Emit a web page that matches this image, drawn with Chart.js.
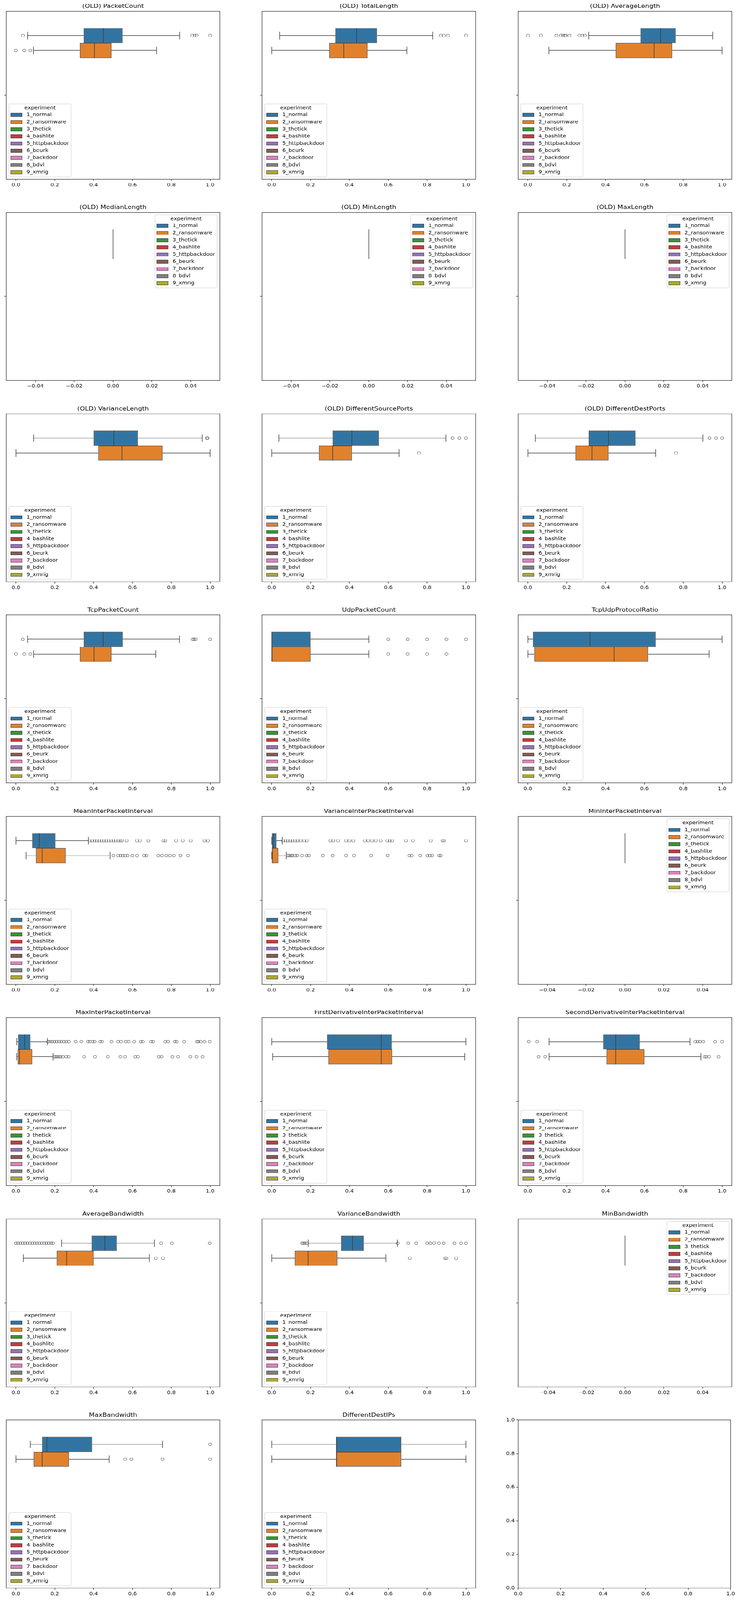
<!DOCTYPE html>
<html>
<head>
<meta charset="utf-8">
<script src="https://cdn.jsdelivr.net/npm/chart.js@4.4.0/dist/chart.umd.min.js"></script>
<style>
  html, body { margin: 0; padding: 0; background: #fff; overflow: hidden; }
  #fig { position: relative; width: 1895px; height: 4686px; overflow: hidden; background: #fff; transform-origin: 0 0; }
  #fig canvas { position: absolute; }
</style>
</head>
<body>
<div id="fig"></div>
<script>
// hue levels
const experiments = ['1_normal', '2_ransomware', '3_thetick', '4_bashlite', '5_httpbackdoor',
                     '6_beurk', '7_backdoor', '8_bdvl', '9_xmrig'];

// one panel per feature
const features = [
  '(OLD) PacketCount', '(OLD) TotalLength', '(OLD) AverageLength',
  '(OLD) MedianLength', '(OLD) MinLength', '(OLD) MaxLength',
  '(OLD) VarianceLength', '(OLD) DifferentSourcePorts', '(OLD) DifferentDestPorts',
  'TcpPacketCount', 'UdpPacketCount', 'TcpUdpProtocolRatio',
  'MeanInterPacketInterval', 'VarianceInterPacketInterval', 'MinInterPacketInterval',
  'MaxInterPacketInterval', 'FirstDerivativeInterPacketInterval', 'SecondDerivativeInterPacketInterval',
  'AverageBandwidth', 'VarianceBandwidth', 'MinBandwidth',
  'MaxBandwidth', 'DifferentDestIPs'
];

// [lower whisker, q1, median, q3, upper whisker]
const normalBox = [
  [0.06, 0.349, 0.45, 0.549, 0.843],
  [0.041, 0.328, 0.437, 0.542, 0.829],
  [0.313, 0.58, 0.683, 0.761, 0.952],
  [0, 0, 0, 0, 0],
  [0, 0, 0, 0, 0],
  [0, 0, 0, 0, 0],
  [0.091, 0.40, 0.504, 0.628, 0.959],
  [0.037, 0.314, 0.413, 0.552, 0.897],
  [0.038, 0.313, 0.415, 0.554, 0.901],
  [0.06, 0.349, 0.449, 0.55, 0.842],
  [0, 0, 0, 0.2, 0.5],
  [0.0, 0.026, 0.32, 0.658, 1.0],
  [0.0, 0.084, 0.12, 0.203, 0.373],
  [0.0, 0.001, 0.008, 0.024, 0.054],
  [0, 0, 0, 0, 0],
  [0.004, 0.011, 0.045, 0.074, 0.162],
  [0.0, 0.285, 0.564, 0.618, 1.0],
  [0.109, 0.388, 0.452, 0.576, 0.835],
  [0.235, 0.39, 0.458, 0.519, 0.713],
  [0.188, 0.357, 0.416, 0.474, 0.647],
  [0, 0, 0, 0, 0],
  [0.074, 0.135, 0.159, 0.392, 0.755],
  [0.0, 0.333, 0.333, 0.667, 1.0]
];

const ransomBox = [
  [0.09, 0.329, 0.404, 0.492, 0.724],
  [0.0, 0.296, 0.371, 0.493, 0.696],
  [0.108, 0.452, 0.65, 0.743, 1.0],
  [0, 0, 0, 0, 0],
  [0, 0, 0, 0, 0],
  [0, 0, 0, 0, 0],
  [0.0, 0.424, 0.546, 0.755, 1.0],
  [0.0, 0.243, 0.314, 0.413, 0.656],
  [0.0, 0.245, 0.33, 0.415, 0.658],
  [0.091, 0.329, 0.402, 0.492, 0.72],
  [0, 0, 0, 0.2, 0.5],
  [0.0, 0.033, 0.444, 0.619, 0.933],
  [0.052, 0.103, 0.135, 0.256, 0.485],
  [0.0, 0.0, 0.003, 0.034, 0.075],
  [0, 0, 0, 0, 0],
  [0.004, 0.009, 0.018, 0.084, 0.191],
  [0.005, 0.292, 0.564, 0.62, 0.994],
  [0.109, 0.405, 0.452, 0.6, 0.891],
  [0.038, 0.21, 0.261, 0.4, 0.687],
  [0.0, 0.119, 0.187, 0.338, 0.588],
  [0, 0, 0, 0, 0],
  [0.0, 0.091, 0.135, 0.273, 0.48],
  [0.0, 0.333, 0.333, 0.667, 1.0]
];

const normalOut = [
  [0.036, 0.908, 0.92, 0.93, 1.0],
  [0.87, 0.886, 0.907, 1.0],
  [0.0, 0.067, 0.147, 0.17, 0.18, 0.19, 0.195, 0.214, 0.265, 0.281, 0.293],
  [], [], [],
  [0.983, 0.987],
  [0.931, 0.966, 1.0],
  [0.935, 0.969, 1.0],
  [0.035, 0.91, 0.917, 0.925, 1.0],
  [0.6, 0.7, 0.8, 0.9, 1.0],
  [],
  [0.38, 0.392, 0.405, 0.417, 0.429, 0.441, 0.453, 0.465, 0.478, 0.49, 0.502, 0.514, 0.526,
   0.538, 0.546, 0.57, 0.623, 0.638, 0.682, 0.76, 0.769, 0.825, 0.859, 0.9, 0.971, 0.988],
  [0.059, 0.071, 0.083, 0.095, 0.107, 0.12, 0.132, 0.149, 0.168, 0.18, 0.302, 0.317, 0.341,
   0.383, 0.4, 0.42, 0.48, 0.497, 0.517, 0.536, 0.561, 0.595, 0.607, 0.62, 0.692, 0.727,
   0.819, 0.88, 0.887, 1.0],
  [],
  [0.166, 0.176, 0.186, 0.198, 0.21, 0.222, 0.234, 0.247, 0.259, 0.273, 0.307, 0.337, 0.371,
   0.38, 0.395, 0.405, 0.434, 0.443, 0.492, 0.526, 0.541, 0.565, 0.58, 0.609, 0.643, 0.653,
   0.696, 0.706, 0.769, 0.784, 0.818, 0.827, 0.866, 0.932, 0.939, 0.951, 0.971, 0.998],
  [],
  [0.004, 0.048, 0.862, 0.874, 0.886, 0.903, 0.964, 1.0],
  [0.0, 0.011, 0.023, 0.035, 0.047, 0.059, 0.072, 0.084, 0.096, 0.108, 0.12, 0.132, 0.145,
   0.157, 0.169, 0.181, 0.191, 0.747, 0.803, 0.998],
  [0.156, 0.163, 0.171, 0.18, 0.649, 0.703, 0.744, 0.8, 0.817, 0.836, 0.861, 0.885, 0.941, 0.975, 1.0],
  [],
  [1.0],
  []
];

const ransomOut = [
  [0.0, 0.043, 0.074],
  [], [],
  [], [], [],
  [],
  [0.758],
  [0.763],
  [0.0, 0.043, 0.074],
  [0.6, 0.7, 0.8, 0.9],
  [],
  [0.502, 0.526, 0.538, 0.55, 0.562, 0.575, 0.599, 0.623, 0.66, 0.672, 0.733, 0.752, 0.774,
   0.793, 0.813, 0.847, 0.886],
  [0.083, 0.09, 0.1, 0.107, 0.12, 0.131, 0.156, 0.18, 0.192, 0.263, 0.314, 0.383, 0.424,
   0.512, 0.597, 0.709, 0.721, 0.765, 0.802, 0.814, 0.826, 0.862, 0.87],
  [],
  [0.198, 0.205, 0.213, 0.222, 0.23, 0.242, 0.259, 0.271, 0.351, 0.407, 0.473, 0.538, 0.562,
   0.614, 0.628, 0.735, 0.75, 0.806, 0.835, 0.898, 0.93, 0.961],
  [],
  [0.055, 0.089, 0.91, 0.918, 0.933, 0.982],
  [0.72, 0.757],
  [0.711, 0.892, 0.899, 0.95],
  [],
  [0.563, 0.594, 0.755, 1.0],
  []
];

// tick labels
const unitTicks = [0, 0.2, 0.4, 0.6, 0.8, 1.0];
const unitLabels = ['0.0', '0.2', '0.4', '0.6', '0.8', '1.0'];
const zeroTicks = [-0.04, -0.02, 0, 0.02, 0.04];
const zeroLabels = ['\u22120.04', '\u22120.02', '0.00', '0.02', '0.04'];

// --- style ---
const palette = ['#3274a1', '#e1812c', '#3a923a', '#c03d3e', '#9372b2',
                 '#845b53', '#d684bd', '#7f7f7f', '#a9aa35'];
const lineColor = '#3d3d3d';
const FONT = 'DejaVu Sans';
const tickFont = { family: FONT, size: 13.9 };

const colLeft = [15.6, 671.1, 1326.6];
const rowTop0 = 32.5, rowStep = 589.5;
const axW = 547, axH = 492;
const padT = 32, padB = 30, padR = 12;

// the window may be shorter than the figure: squeeze the figure to fit it
const fig = document.getElementById('fig');
const fitY = Math.min(1, window.innerHeight / 4686);
fig.style.transform = 'scale(1,' + fitY + ')';

// whiskers, medians and fliers on top of the floating bars
const boxPlugin = {
  id: 'boxes',
  afterDatasetsDraw(chart) {
    const ctx = chart.ctx, xs = chart.scales.x;
    chart.data.datasets.forEach((ds, i) => {
      if (!ds.stats) return;
      const el = chart.getDatasetMeta(i).data[0];
      const yc = el.y, h = el.height;
      const [lo, q1, med, q3, hi] = ds.stats.map(v => xs.getPixelForValue(v));
      ctx.save();
      ctx.strokeStyle = lineColor;
      ctx.lineWidth = 1.5;
      ctx.beginPath();
      ctx.moveTo(lo, yc); ctx.lineTo(q1, yc);
      ctx.moveTo(q3, yc); ctx.lineTo(hi, yc);
      ctx.moveTo(lo, yc - h / 4); ctx.lineTo(lo, yc + h / 4);
      ctx.moveTo(hi, yc - h / 4); ctx.lineTo(hi, yc + h / 4);
      ctx.moveTo(med, yc - h / 2); ctx.lineTo(med, yc + h / 2);
      ctx.stroke();
      ctx.lineWidth = 1;
      ds.outliers.forEach(v => {
        ctx.beginPath();
        ctx.arc(xs.getPixelForValue(v), yc, 4, 0, Math.PI * 2);
        ctx.stroke();
      });
      ctx.restore();
    });
  }
};

// spines, title and the in-axes legend
const framePlugin = {
  id: 'frame',
  afterDraw(chart, args, opts) {
    const a = chart.chartArea, ctx = chart.ctx;
    ctx.save();
    ctx.strokeStyle = '#000';
    ctx.lineWidth = 1.1;
    ctx.strokeRect(a.left, a.top, a.right - a.left, a.bottom - a.top);

    if (opts.title) {
      ctx.fillStyle = '#000';
      ctx.font = '16.7px "' + FONT + '"';
      ctx.textAlign = 'center';
      ctx.textBaseline = 'middle';
      ctx.fillText(opts.title, (a.left + a.right) / 2, a.top - 14);
    }

    if (opts.legend) {
      const bw = 159, bh = 214;
      const bx = opts.legend === 'upper right' ? a.right - 7 - bw : a.left + 7;
      const by = opts.legend === 'upper right' ? a.top + 7 : a.bottom - 7 - bh;
      ctx.beginPath();
      ctx.roundRect(bx, by, bw, bh, 3);
      ctx.fillStyle = 'rgba(255,255,255,0.8)';
      ctx.fill();
      ctx.strokeStyle = '#cccccc';
      ctx.lineWidth = 1;
      ctx.stroke();

      ctx.font = '13.9px "' + FONT + '"';
      ctx.fillStyle = '#000';
      ctx.textAlign = 'center';
      ctx.textBaseline = 'middle';
      ctx.fillText('experiment', bx + bw / 2, by + 12);
      ctx.textAlign = 'left';
      chart.data.datasets.forEach((ds, i) => {
        const cy = by + 32.5 + 21 * i;
        ctx.fillStyle = ds.backgroundColor;
        ctx.fillRect(bx + 4.5, cy - 5, 29, 10);
        ctx.strokeStyle = lineColor;
        ctx.strokeRect(bx + 4.5, cy - 5, 29, 10);
        ctx.fillStyle = '#000';
        ctx.fillText(ds.label, bx + 45, cy);
      });
    }
    ctx.restore();
  }
};

function makeCanvas(k, padL) {
  const r = Math.floor(k / 3), c = k % 3;
  const cv = document.createElement('canvas');
  cv.width = axW + padL + padR;
  cv.height = axH + padT + padB;
  cv.style.left = (colLeft[c] - padL) + 'px';
  cv.style.top = (rowTop0 + r * rowStep - padT) + 'px';
  fig.appendChild(cv);
  return cv;
}

function valueAxis(min, max, tv, tl, isY, padL) {
  return {
    type: 'linear', min, max,
    afterBuildTicks: s => { s.ticks = tv.map(v => ({ value: v })); },
    afterFit: s => { if (isY) s.width = padL; else s.height = padB; },
    ticks: { autoSkip: false, maxRotation: 0, padding: 4, color: '#000', font: tickFont,
             callback: (v, i) => tl[i] },
    grid: { drawOnChartArea: false, drawTicks: true, tickLength: 5, color: '#000', lineWidth: 1.1 },
    border: { display: false }
  };
}

features.forEach((title, k) => {
  const padL = 14;
  const cv = makeCanvas(k, padL);
  const flat = normalBox[k].every(v => v === 0) && ransomBox[k].every(v => v === 0);
  const xr = flat ? [-0.055, 0.055] : [-0.05, 1.05];

  const datasets = experiments.map((name, h) => {
    const ds = {
      label: name,
      data: [null],
      backgroundColor: palette[h],
      borderColor: lineColor,
      borderWidth: 1.5,
      borderSkipped: false,
      categoryPercentage: 0.8,
      barPercentage: 1.0
    };
    if (h === 0) { ds.data = [[normalBox[k][1], normalBox[k][3]]]; ds.stats = normalBox[k]; ds.outliers = normalOut[k]; }
    if (h === 1) { ds.data = [[ransomBox[k][1], ransomBox[k][3]]]; ds.stats = ransomBox[k]; ds.outliers = ransomOut[k]; }
    return ds;
  });

  new Chart(cv, {
    type: 'bar',
    data: { labels: [''], datasets },
    plugins: [boxPlugin, framePlugin],
    options: {
      indexAxis: 'y',
      responsive: false,
      animation: false,
      layout: { padding: { left: 0, top: padT, right: padR, bottom: 0 } },
      plugins: {
        legend: { display: false },
        tooltip: { enabled: false },
        frame: { title, legend: flat ? 'upper right' : 'lower left' }
      },
      scales: {
        x: valueAxis(xr[0], xr[1], flat ? zeroTicks : unitTicks, flat ? zeroLabels : unitLabels, false),
        y: {
          type: 'category', offset: true,
          afterFit: s => { s.width = padL; },
          grid: { offset: false, drawOnChartArea: false, tickLength: 5, color: '#000', lineWidth: 1.1 },
          border: { display: false },
          ticks: { padding: 2, font: tickFont, color: '#000' }
        }
      }
    }
  });
});

// last, unused axes of the 8x3 grid
(() => {
  const padL = 45;
  const cv = makeCanvas(23, padL);
  new Chart(cv, {
    type: 'scatter',
    data: { datasets: [] },
    plugins: [framePlugin],
    options: {
      responsive: false,
      animation: false,
      layout: { padding: { left: 0, top: padT, right: padR, bottom: 0 } },
      plugins: { legend: { display: false }, tooltip: { enabled: false }, frame: {} },
      scales: {
        x: valueAxis(0, 1, unitTicks, unitLabels, false),
        y: valueAxis(0, 1, unitTicks, unitLabels, true, padL)
      }
    }
  });
})();
</script>
</body>
</html>
